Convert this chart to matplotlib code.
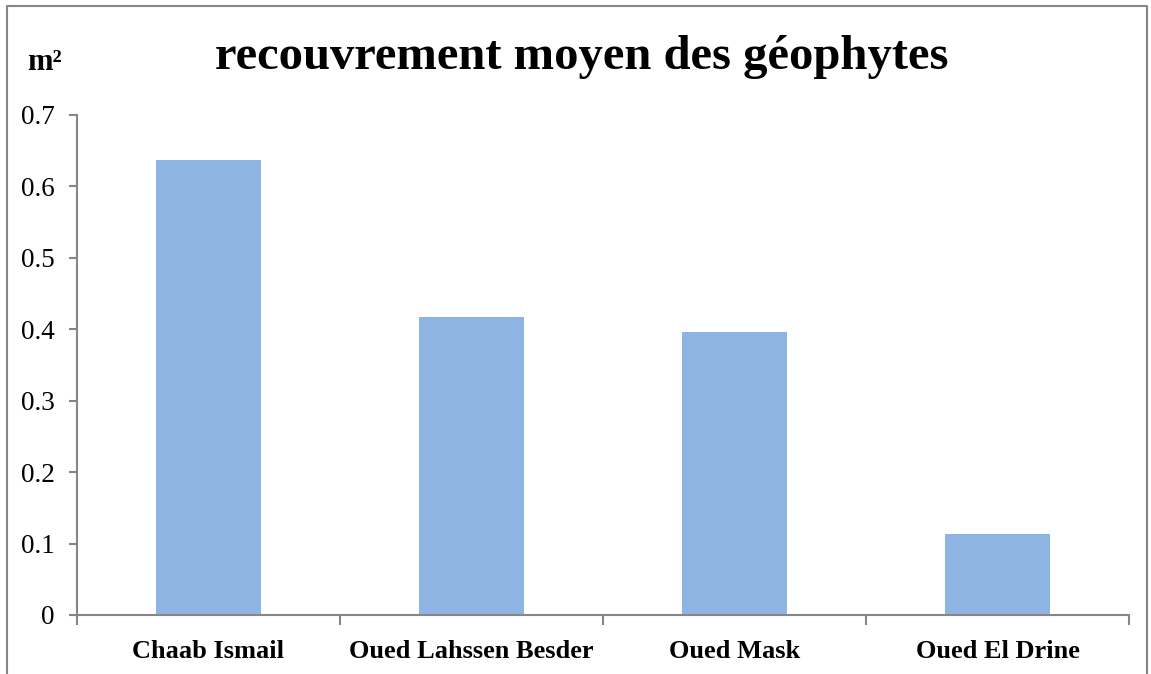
import numpy as np
import matplotlib.pyplot as plt
from matplotlib.lines import Line2D

# mean geophyte cover per site (m²)
sites = ["Chaab Ismail", "Oued Lahssen Besder", "Oued Mask", "Oued El Drine"]
cover = [0.637, 0.417, 0.396, 0.113]
yticks = [0, 0.1, 0.2, 0.3, 0.4, 0.5, 0.6, 0.7]

plt.rcParams['font.family'] = ['Liberation Serif', 'DejaVu Serif']
grey = '#868686'

fig = plt.figure(figsize=(11.51, 6.74), dpi=100)
ax = fig.add_axes([77/1151, 1 - 615/674, (1129 - 77)/1151, 500/674])

x = np.arange(len(sites))
ax.bar(x, cover, width=0.4, color='#8EB4E3', zorder=2)

ax.set_xlim(-0.5, len(sites) - 0.5)
ax.set_ylim(0, 0.7)
ax.set_yticks(yticks)
ax.set_yticklabels([f"{v:g}" for v in yticks], fontsize=19.5)
ax.set_xticks(x)
ax.set_xticklabels(sites, fontsize=19, fontweight='bold')
ax.tick_params(axis='x', length=0, pad=18)
ax.set_xticks(np.arange(-0.5, len(sites)), minor=True)
ax.tick_params(axis='x', which='minor', length=7, color=grey, width=1.5)
ax.tick_params(axis='y', length=6, color=grey, width=1.5, pad=10)

for s in ['top', 'right']:
    ax.spines[s].set_visible(False)
for s in ['left', 'bottom']:
    ax.spines[s].set_color(grey)
    ax.spines[s].set_linewidth(1.5)

fig.text(582/1151, 1 - 57/674, "recouvrement moyen des géophytes",
         ha='center', va='center', fontsize=35, fontweight='bold')
fig.text(45/1151, 1 - 62/674, "m²", ha='center', va='center',
         fontsize=22, fontweight='bold')

# frame around the chart area
fx = [7/1151, 7/1151, 1147/1151, 1147/1151]
fy = [0, 1 - 6/674, 1 - 6/674, 0]
fig.add_artist(Line2D(fx, fy, color=grey, lw=1.5, transform=fig.transFigure))

fig.savefig('out.png', dpi=100)
